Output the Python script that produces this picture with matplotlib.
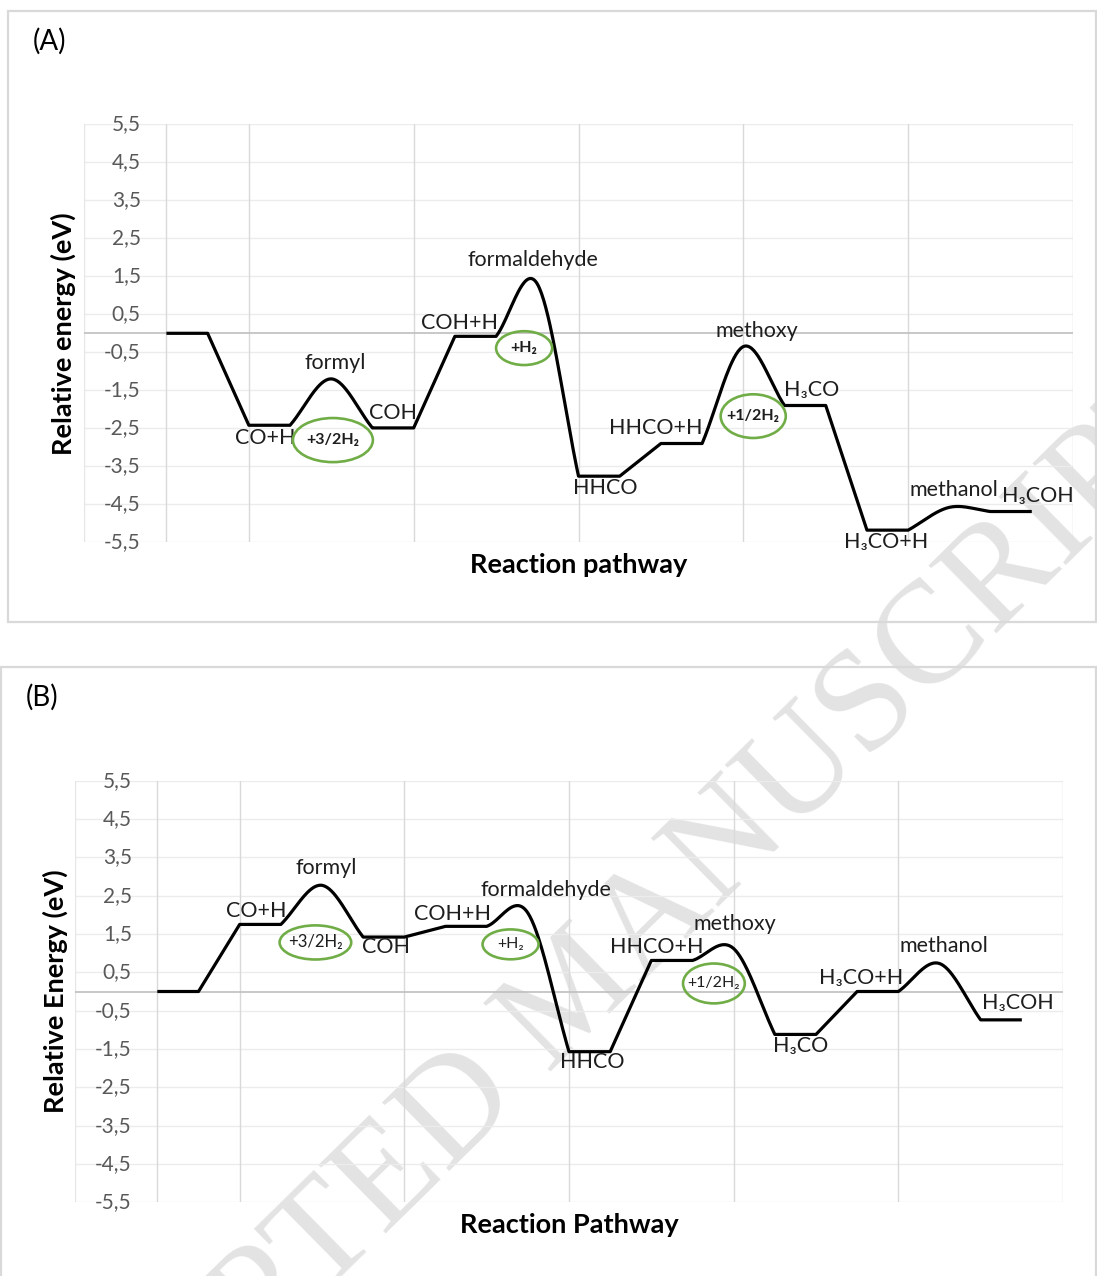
import numpy as np
import matplotlib
matplotlib.use("Agg")
import matplotlib.pyplot as plt
from matplotlib.patches import Ellipse, Rectangle

plt.rcParams['font.family'] = ['Lato', 'DejaVu Sans']

# ---------------- data ----------------
# Intermediate states along the pathway (eV, relative to CO + H2)
states = ["CO", "CO+H", "COH", "COH+H", "HHCO", "HHCO+H", "H₃CO", "H₃CO+H", "H₃COH"]

energy_A = [0.0, -2.42, -2.49, -0.08, -3.76, -2.90, -1.90, -5.18, -4.69]
energy_B = [0.0, 1.75, 1.42, 1.70, -1.57, 0.81, -1.12, 0.00, -0.74]

# Transition barriers between consecutive states (nan = no barrier drawn)
barrier_names = ["", "formyl", "", "formaldehyde", "", "methoxy", "", "methanol"]
barrier_A = [np.nan, -1.20, np.nan, 1.30, np.nan, -0.35, np.nan, -4.58]
barrier_B = [np.nan, 2.77, np.nan, 2.05, np.nan, 1.12, np.nan, 0.73]

hydrogen_added = ["+3/2H₂", "+H₂", "+1/2H₂"]

y_ticks = np.arange(-5.5, 6.0, 1.0)

# ---------------- helpers ----------------
def hump(x0, y0, yts, y1, n=40):
    """Smoothed three-point curve (cardinal spline) over a barrier."""
    t = np.linspace(0, 1, n)
    h00 = 2 * t**3 - 3 * t**2 + 1
    h10 = t**3 - 2 * t**2 + t
    h01 = -2 * t**3 + 3 * t**2
    h11 = t**3 - t**2
    m0 = yts - y0
    m1 = (y1 - y0) / 2.0
    m2 = y1 - yts
    ya = h00 * y0 + h10 * m0 + h01 * yts + h11 * m1
    yb = h00 * yts + h10 * m1 + h01 * y1 + h11 * m2
    xa = x0 + 0.5 * t
    xb = x0 + 0.5 + 0.5 * t
    return np.concatenate([xa, xb[1:]]), np.concatenate([ya, yb[1:]])


def pathway(energy, barrier, x_start=1.0, plateau=0.5, step=0.5):
    px, py = [x_start], [energy[0]]
    x = x_start
    for i in range(len(energy)):
        x += plateau
        px.append(x)
        py.append(energy[i])
        if i == len(energy) - 1:
            break
        if np.isnan(barrier[i]):
            x += step
            px.append(x)
            py.append(energy[i + 1])
        else:
            cx, cy = hump(x, energy[i], barrier[i], energy[i + 1])
            px.extend(cx[1:])
            py.extend(cy[1:])
            x += 2 * step
    return np.array(px), np.array(py)


TXT = '#1e1e1e'
TICK = '#595959'
GREEN = '#70ad47'
W, H = 1097, 1276


def draw_panel(ax, energy, barrier, state_pos, barrier_pos, ell_pos, ell_bold,
               xlabel, ylabel, ylabel_x, fig):
    ax.set_xlim(0, 12)
    ax.set_ylim(-5.5, 5.5)
    ax.set_facecolor('none')
    for s in ax.spines.values():
        s.set_visible(False)
    ax.set_xticks([])
    ax.set_yticks([])

    # gridlines
    for v in y_ticks:
        ax.axhline(v, color='#ececec', lw=1.0, zorder=1)
    ax.axvline(0, color='#e6e6e6', lw=1.0, zorder=1)
    for v in [1, 2, 4, 6, 8, 10, 12]:
        ax.axvline(v, color='#d9d9d9', lw=1.0, zorder=1)
    ax.axhline(0, color='#bfbfbf', lw=1.2, zorder=1.5)

    for v in y_ticks:
        ax.text(0.69, v, f"{v:.1f}".replace('.', ','), ha='right', va='center',
                fontsize=15, color=TICK, zorder=3)

    px, py = pathway(energy, barrier)
    ax.plot(px, py, color='black', lw=2.3, zorder=4, solid_capstyle='butt')

    labels = states[1:]
    for name, (x, y) in zip(labels, state_pos):
        ax.text(x, y, name, ha='center', va='center', fontsize=15.5, color=TXT, zorder=5)
    names = [b for b in barrier_names if b]
    for name, (x, y) in zip(names, barrier_pos):
        ax.text(x, y, name, ha='center', va='center', fontsize=15.5, color=TXT, zorder=5)

    for txt, (x, y, w, h, fs) in zip(hydrogen_added, ell_pos):
        ax.add_patch(Ellipse((x, y), w, h, fill=False, ec=GREEN, lw=1.9, zorder=5))
        ax.text(x, y, txt, ha='center', va='center', fontsize=fs, color=TXT,
                fontweight='bold' if ell_bold else 'normal', zorder=6)

    ax.text(0.5, -0.055, xlabel, transform=ax.transAxes, ha='center', va='center',
            fontsize=19.5, fontweight='bold', color='black')
    fig.text(ylabel_x / W, 0.5 * (ax.get_position().y0 + ax.get_position().y1),
             ylabel, rotation=90, ha='center', va='center', fontsize=19.5,
             fontweight='bold', color='black')


fig = plt.figure(figsize=(W / 100, H / 100), dpi=100)

# panel frames
fig.patches.append(Rectangle((8 / W, 1 - 622 / H), (1096 - 8) / W, (622 - 11) / H,
                             transform=fig.transFigure, fill=False, ec='#d9d9d9', lw=1.6,
                             zorder=0))
fig.patches.append(Rectangle((1 / W, -0.01), (1096 - 1) / W, 0.01 + (1276 - 667) / H,
                             transform=fig.transFigure, fill=False, ec='#d9d9d9', lw=1.6,
                             zorder=0))

axA = fig.add_axes([84 / W, 1 - 542.3 / H, (1073 - 84) / W, (542.3 - 124.3) / H])
axB = fig.add_axes([75 / W, 1 - 1202.3 / H, (1063 - 75) / W, (1202.3 - 780.7) / H])

posA_states = [(2.2, -2.76), (3.75, -2.1), (4.56, 0.27), (6.33, -4.07), (6.94, -2.49),
               (8.83, -1.49), (9.73, -5.49), (11.57, -4.28)]
posA_barriers = [(3.05, -0.78), (5.45, 1.93), (8.16, 0.06), (10.55, -4.12)]
ellA = [(3.02, -2.81, 0.97, 1.16, 11.5), (5.34, -0.39, 0.68, 0.89, 11.5),
        (8.12, -2.18, 0.79, 1.15, 11.5)]

posB_states = [(2.2, 2.09), (3.78, 1.15), (4.58, 2.01), (6.28, -1.85), (7.06, 1.17),
               (8.81, -1.41), (9.55, 0.34), (11.45, -0.31)]
posB_barriers = [(3.05, 3.21), (5.72, 2.66), (8.02, 1.75), (10.55, 1.2)]
ellB = [(2.92, 1.28, 0.87, 0.89, 12), (5.29, 1.23, 0.68, 0.78, 11.5),
        (7.76, 0.21, 0.75, 1.04, 11.5)]

draw_panel(axA, energy_A, barrier_A, posA_states, posA_barriers, ellA, True,
           "Reaction pathway", "Relative energy (eV)", 63, fig)
draw_panel(axB, energy_B, barrier_B, posB_states, posB_barriers, ellB, False,
           "Reaction Pathway", "Relative Energy (eV)", 55, fig)

fig.text(50 / W, 1 - 41 / H, "(A)", ha='center', va='center', fontsize=20, color='black')
fig.text(42 / W, 1 - 697 / H, "(B)", ha='center', va='center', fontsize=20, color='black')

# diagonal stamp across the sheet
fig.text(577 / W, 1 - 997 / H, "ACCEPTED MANUSCRIPT", ha='center', va='center',
         rotation=44.5, rotation_mode='anchor', fontsize=105, family='Liberation Serif',
         color='#e3e3e3', zorder=-1)

fig.savefig("out.png", dpi=100)
